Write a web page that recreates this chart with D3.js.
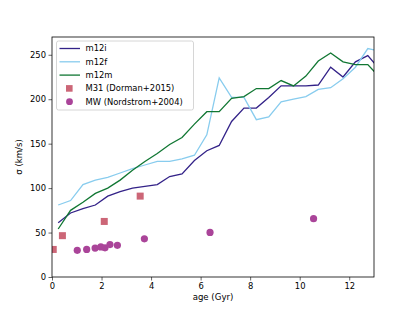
<!DOCTYPE html>
<html>
<head>
<meta charset="utf-8">
<script src="https://cdn.jsdelivr.net/npm/d3@7"></script>
<style>
  body { margin: 0; background: #fff; }
  text { font-family: "DejaVu Sans", sans-serif; }
</style>
</head>
<body>
<svg id="chart"></svg>
<script>
// simulation bins (Gyr)
var ages = [0.25, 0.75, 1.25, 1.75, 2.25, 2.75, 3.25, 3.75, 4.25, 4.75, 5.25, 5.75, 6.25,
            6.75, 7.25, 7.75, 8.25, 8.75, 9.25, 9.75, 10.25, 10.75, 11.25, 11.75, 12.25, 12.75, 13.25];
var m12i = [61, 72, 77, 81, 91, 96, 100, 102, 104, 113, 116, 131, 142,
            148, 175, 190, 190, 202, 215, 215, 215, 216, 236, 225, 242, 249, 233];
var m12f = [81, 86, 104, 109, 112, 117, 122, 126, 130, 130, 133, 137, 160,
            224, 202, 202, 177, 180, 197, 200, 203, 211, 213, 223, 236, 257, 254];
var m12m = [54, 75, 84, 94, 100, 109, 120, 130, 139, 149, 157, 172, 186,
            186, 201, 203, 212, 212, 221, 215, 226, 243, 252, 242, 239, 239, 224];

// observations
var m31Age = [0.05, 0.42, 2.11, 3.56];
var m31Sig = [31, 46.5, 62.5, 91];
var mwAge = [1.02, 1.4, 1.74, 1.97, 2.14, 2.34, 2.64, 3.73, 6.38, 10.56];
var mwSig = [30, 31, 32.5, 33.8, 32.8, 36.5, 35.6, 43, 50.2, 65.6];

var xTicks = [0, 2, 4, 6, 8, 10, 12];
var yTicks = [0, 50, 100, 150, 200, 250];

var series = [
  {name: "m12i", values: m12i, color: "#332288"},
  {name: "m12f", values: m12f, color: "#88ccee"},
  {name: "m12m", values: m12m, color: "#117733"}
];

var width = 415, height = 311;
var margin = {top: 37, right: 41, bottom: 34, left: 52};
var w = width - margin.left - margin.right;
var h = height - margin.top - margin.bottom;

var svg = d3.select("#chart")
    .attr("width", width)
    .attr("height", height);

var x = d3.scaleLinear().domain([0, 13]).range([0, w]);
var y = d3.scaleLinear().domain([0, 270]).range([h, 0]);

var g = svg.append("g")
    .attr("transform", "translate(" + margin.left + "," + margin.top + ")");

g.append("clipPath").attr("id", "clip")
  .append("rect").attr("width", w).attr("height", h);

var line = d3.line()
    .x(function(d) { return x(d[0]); })
    .y(function(d) { return y(d[1]); });

var plot = g.append("g").attr("clip-path", "url(#clip)");

series.forEach(function(s) {
  plot.append("path")
      .datum(ages.map(function(a, i) { return [a, s.values[i]]; }))
      .attr("fill", "none")
      .attr("stroke", s.color)
      .attr("stroke-width", 1.3)
      .attr("d", line);
});

plot.selectAll("rect.m31")
    .data(m31Age.map(function(a, i) { return [a, m31Sig[i]]; }))
    .enter().append("rect")
    .attr("class", "m31")
    .attr("x", function(d) { return x(d[0]) - 3.5; })
    .attr("y", function(d) { return y(d[1]) - 3.5; })
    .attr("width", 7)
    .attr("height", 7)
    .attr("fill", "#cc6677");

plot.selectAll("circle.mw")
    .data(mwAge.map(function(a, i) { return [a, mwSig[i]]; }))
    .enter().append("circle")
    .attr("class", "mw")
    .attr("cx", function(d) { return x(d[0]); })
    .attr("cy", function(d) { return y(d[1]); })
    .attr("r", 3.6)
    .attr("fill", "#aa4499");

// axes
var xAxis = g.append("g")
    .attr("transform", "translate(0," + h + ")")
    .call(d3.axisBottom(x).tickValues(xTicks).tickSize(3.5).tickPadding(2.5));
var yAxis = g.append("g")
    .call(d3.axisLeft(y).tickValues(yTicks).tickSize(3.5).tickPadding(2.5));
[xAxis, yAxis].forEach(function(a) {
  a.select(".domain").remove();
  a.selectAll("text").attr("font-size", "8.4px").attr("fill", "#000")
      .style("font-family", "DejaVu Sans, sans-serif");
  a.selectAll("line").attr("stroke", "#000").attr("stroke-width", 0.6);
});

g.append("rect")
    .attr("width", w)
    .attr("height", h)
    .attr("fill", "none")
    .attr("stroke", "#000")
    .attr("stroke-width", 0.8);

// labels
svg.append("text")
    .attr("x", margin.left + w / 2)
    .attr("y", 300)
    .attr("text-anchor", "middle")
    .attr("font-size", "8.6px")
    .text("age (Gyr)");

svg.append("text")
    .attr("transform", "translate(22," + (margin.top + h / 2) + ") rotate(-90)")
    .attr("text-anchor", "middle")
    .attr("font-size", "8.6px")
    .text("σ (km/s)");

// legend
var leg = g.append("g").attr("transform", "translate(4.5,4)");
leg.append("rect")
    .attr("width", 137)
    .attr("height", 69)
    .attr("rx", 2)
    .attr("fill", "#fff")
    .attr("fill-opacity", 0.8)
    .attr("stroke", "#ccc")
    .attr("stroke-width", 0.8);

var entries = series.map(function(s) { return {name: s.name, color: s.color, kind: "line"}; })
    .concat([{name: "M31 (Dorman+2015)", color: "#cc6677", kind: "square"},
             {name: "MW (Nordstrom+2004)", color: "#aa4499", kind: "circle"}]);

entries.forEach(function(e, i) {
  var ey = 7.5 + i * 13.3;
  var item = leg.append("g").attr("transform", "translate(0," + ey + ")");
  if (e.kind === "line") {
    item.append("line").attr("x1", 3).attr("x2", 23.5)
        .attr("stroke", e.color).attr("stroke-width", 1.3);
  } else if (e.kind === "square") {
    item.append("rect").attr("x", 9.5).attr("y", -3.3).attr("width", 6.6).attr("height", 6.6)
        .attr("fill", e.color);
  } else {
    item.append("circle").attr("cx", 13).attr("r", 3.4).attr("fill", e.color);
  }
  item.append("text")
      .attr("x", 29)
      .attr("dy", "0.35em")
      .attr("font-size", "8.4px")
      .text(e.name);
});
</script>
</body>
</html>
